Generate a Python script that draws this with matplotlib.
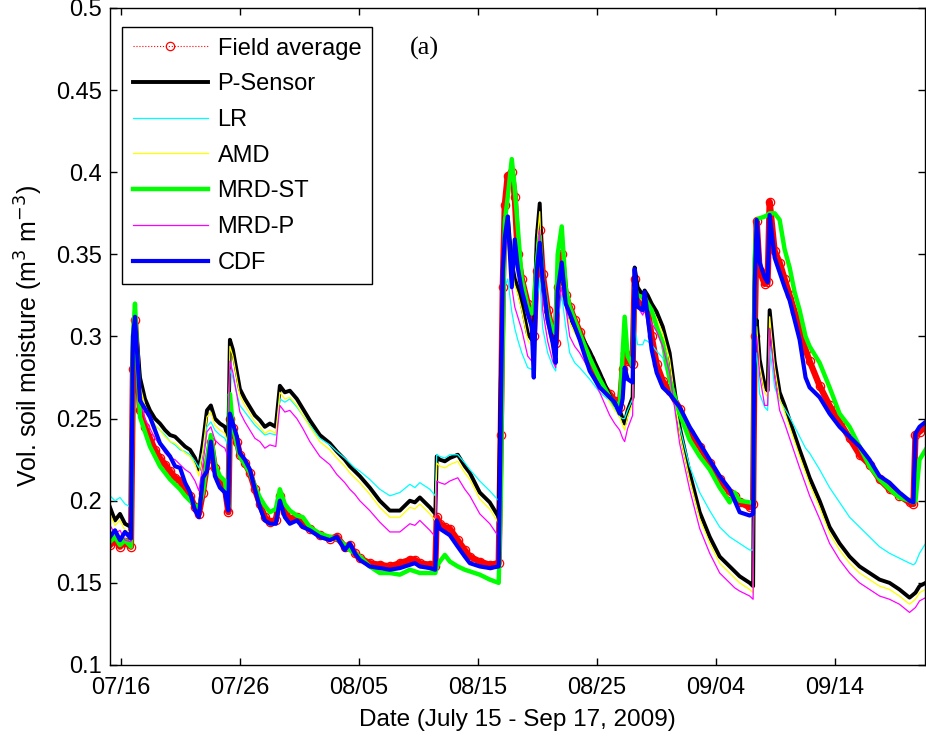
import numpy as np
import matplotlib
matplotlib.use('Agg')
import matplotlib.pyplot as plt

# time in days since 07/15 00:00 (2009)
t_day = [0.08, 0.50, 0.92, 1.34, 1.84, 2.01, 2.18, 2.60, 3.02, 3.44,
         3.86, 4.28, 4.71, 5.13, 5.55, 5.97, 6.39, 6.81, 7.23, 7.55,
         7.89, 8.23, 8.56, 8.90, 9.32, 9.74, 10.03, 10.16, 10.41, 10.75,
         11.00, 11.42, 11.84, 12.26, 12.68, 13.10, 13.52, 14.02, 14.36, 14.78,
         15.20, 15.79, 16.29, 16.88, 17.72, 18.56, 19.15, 19.82, 20.24, 20.66,
         21.08, 21.92, 22.76, 23.61, 24.45, 25.29, 25.71, 26.13, 26.97, 27.43,
         27.55, 27.81, 28.23, 28.65, 29.32, 29.91, 30.33, 31.17, 32.01, 32.76,
         32.93, 33.10, 33.27, 33.52, 33.86, 34.11, 34.36, 34.70, 35.20, 35.54,
         35.71, 35.96, 36.21, 36.46, 36.88, 37.30, 37.55, 37.72, 38.06, 38.39,
         38.73, 39.15, 39.57, 40.41, 41.25, 42.09, 42.51, 42.93, 43.18, 43.35,
         43.60, 44.02, 44.19, 44.44, 44.87, 45.03, 45.29, 45.62, 46.04, 46.55,
         47.13, 47.97, 48.81, 49.66, 50.50, 51.34, 52.18, 52.60, 53.02, 53.86,
         54.15, 54.28, 54.45, 54.70, 55.12, 55.37, 55.54, 55.96, 56.38, 56.80,
         57.22, 57.64, 58.06, 58.56, 58.90, 59.74, 60.58, 61.42, 62.26, 63.10,
         63.94, 64.78, 65.62, 66.45, 67.30, 67.63, 67.80, 68.14, 68.65]

field_avg = [0.173, 0.176, 0.172, 0.175, 0.172, 0.280, 0.310, 0.255, 0.245, 0.238,
             0.231, 0.226, 0.222, 0.218, 0.214, 0.212, 0.207, 0.203, 0.196, 0.192,
             0.205, 0.222, 0.236, 0.220, 0.212, 0.208, 0.193, 0.250, 0.244, 0.236,
             0.228, 0.223, 0.217, 0.207, 0.198, 0.190, 0.187, 0.188, 0.203, 0.193,
             0.189, 0.190, 0.186, 0.183, 0.179, 0.177, 0.178, 0.172, 0.173, 0.168,
             0.165, 0.162, 0.161, 0.160, 0.162, 0.164, 0.164, 0.162, 0.161, 0.160,
             0.190, 0.186, 0.184, 0.183, 0.176, 0.170, 0.166, 0.163, 0.161, 0.162,
             0.240, 0.330, 0.380, 0.398, 0.400, 0.385, 0.350, 0.335, 0.320, 0.312,
             0.300, 0.340, 0.365, 0.338, 0.316, 0.302, 0.296, 0.330, 0.350, 0.325,
             0.318, 0.310, 0.303, 0.286, 0.273, 0.265, 0.261, 0.257, 0.280, 0.290,
             0.285, 0.283, 0.335, 0.322, 0.318, 0.323, 0.316, 0.300, 0.283, 0.273,
             0.267, 0.256, 0.241, 0.233, 0.223, 0.213, 0.205, 0.203, 0.199, 0.196,
             0.198, 0.300, 0.370, 0.340, 0.332, 0.333, 0.382, 0.352, 0.345, 0.335,
             0.325, 0.315, 0.305, 0.292, 0.285, 0.270, 0.258, 0.248, 0.238, 0.228,
             0.222, 0.213, 0.207, 0.203, 0.199, 0.198, 0.240, 0.242, 0.245]

p_sensor = [0.196, 0.188, 0.192, 0.186, 0.184, 0.300, 0.312, 0.275, 0.262, 0.255,
            0.250, 0.247, 0.243, 0.240, 0.239, 0.236, 0.233, 0.231, 0.226, 0.219,
            0.235, 0.255, 0.258, 0.250, 0.247, 0.245, 0.238, 0.298, 0.292, 0.278,
            0.268, 0.262, 0.257, 0.252, 0.249, 0.245, 0.247, 0.245, 0.270, 0.266,
            0.267, 0.262, 0.256, 0.249, 0.240, 0.235, 0.230, 0.225, 0.221, 0.218,
            0.215, 0.208, 0.200, 0.194, 0.194, 0.200, 0.199, 0.202, 0.196, 0.192,
            0.227, 0.225, 0.224, 0.226, 0.228, 0.221, 0.217, 0.205, 0.199, 0.190,
            0.272, 0.316, 0.373, 0.373, 0.345, 0.335, 0.330, 0.320, 0.302, 0.298,
            0.300, 0.360, 0.381, 0.330, 0.310, 0.297, 0.293, 0.325, 0.342, 0.330,
            0.312, 0.306, 0.302, 0.291, 0.278, 0.264, 0.259, 0.255, 0.250, 0.247,
            0.255, 0.263, 0.342, 0.330, 0.325, 0.328, 0.325, 0.320, 0.315, 0.306,
            0.290, 0.245, 0.217, 0.193, 0.178, 0.166, 0.160, 0.157, 0.154, 0.150,
            0.148, 0.300, 0.310, 0.286, 0.270, 0.267, 0.316, 0.285, 0.266, 0.258,
            0.249, 0.240, 0.231, 0.221, 0.214, 0.200, 0.184, 0.174, 0.166, 0.160,
            0.156, 0.152, 0.150, 0.146, 0.141, 0.143, 0.144, 0.148, 0.150]

lr = [0.203, 0.200, 0.202, 0.198, 0.196, 0.290, 0.305, 0.265, 0.255, 0.250,
      0.246, 0.243, 0.240, 0.236, 0.234, 0.231, 0.230, 0.228, 0.224, 0.220,
      0.230, 0.245, 0.248, 0.243, 0.240, 0.238, 0.233, 0.280, 0.275, 0.265,
      0.258, 0.254, 0.250, 0.246, 0.243, 0.240, 0.241, 0.240, 0.262, 0.260,
      0.262, 0.257, 0.252, 0.246, 0.238, 0.234, 0.230, 0.226, 0.223, 0.220,
      0.218, 0.213, 0.207, 0.203, 0.205, 0.210, 0.208, 0.211, 0.207, 0.203,
      0.228, 0.227, 0.226, 0.228, 0.228, 0.223, 0.219, 0.212, 0.206, 0.200,
      0.260, 0.290, 0.330, 0.335, 0.315, 0.305, 0.298, 0.290, 0.281, 0.280,
      0.282, 0.320, 0.335, 0.305, 0.290, 0.282, 0.279, 0.310, 0.325, 0.306,
      0.290, 0.284, 0.281, 0.274, 0.266, 0.261, 0.256, 0.251, 0.250, 0.250,
      0.255, 0.262, 0.305, 0.295, 0.295, 0.298, 0.297, 0.295, 0.291, 0.287,
      0.272, 0.245, 0.221, 0.205, 0.194, 0.184, 0.178, 0.176, 0.174, 0.170,
      0.170, 0.280, 0.290, 0.265, 0.257, 0.255, 0.294, 0.269, 0.261, 0.256,
      0.251, 0.245, 0.239, 0.232, 0.229, 0.219, 0.208, 0.199, 0.190, 0.184,
      0.178, 0.172, 0.168, 0.165, 0.162, 0.161, 0.162, 0.168, 0.174]

amd = [0.192, 0.185, 0.188, 0.182, 0.181, 0.295, 0.308, 0.270, 0.258, 0.251,
       0.246, 0.243, 0.239, 0.236, 0.235, 0.232, 0.229, 0.227, 0.222, 0.215,
       0.231, 0.251, 0.254, 0.246, 0.243, 0.241, 0.234, 0.294, 0.288, 0.274,
       0.264, 0.258, 0.253, 0.248, 0.245, 0.241, 0.243, 0.241, 0.266, 0.262,
       0.263, 0.258, 0.252, 0.245, 0.236, 0.231, 0.226, 0.221, 0.217, 0.214,
       0.211, 0.204, 0.196, 0.190, 0.190, 0.196, 0.195, 0.198, 0.192, 0.188,
       0.223, 0.221, 0.220, 0.222, 0.224, 0.217, 0.213, 0.201, 0.195, 0.186,
       0.268, 0.312, 0.368, 0.369, 0.341, 0.331, 0.326, 0.316, 0.298, 0.294,
       0.296, 0.355, 0.376, 0.326, 0.306, 0.293, 0.289, 0.321, 0.338, 0.326,
       0.308, 0.302, 0.298, 0.287, 0.274, 0.260, 0.255, 0.251, 0.246, 0.243,
       0.251, 0.259, 0.338, 0.326, 0.321, 0.324, 0.321, 0.316, 0.311, 0.302,
       0.286, 0.241, 0.213, 0.189, 0.174, 0.162, 0.156, 0.153, 0.150, 0.146,
       0.144, 0.296, 0.306, 0.282, 0.266, 0.263, 0.312, 0.281, 0.262, 0.254,
       0.245, 0.236, 0.227, 0.217, 0.210, 0.196, 0.180, 0.170, 0.162, 0.156,
       0.152, 0.148, 0.146, 0.142, 0.137, 0.139, 0.140, 0.144, 0.146]

mrd_st = [0.175, 0.178, 0.173, 0.176, 0.172, 0.300, 0.320, 0.251, 0.242, 0.233,
          0.227, 0.221, 0.217, 0.213, 0.210, 0.207, 0.203, 0.200, 0.197, 0.196,
          0.205, 0.225, 0.240, 0.222, 0.215, 0.212, 0.196, 0.265, 0.245, 0.234,
          0.227, 0.222, 0.217, 0.209, 0.202, 0.197, 0.193, 0.195, 0.207, 0.198,
          0.194, 0.191, 0.190, 0.184, 0.180, 0.178, 0.177, 0.173, 0.170, 0.168,
          0.166, 0.160, 0.156, 0.156, 0.155, 0.158, 0.157, 0.156, 0.156, 0.156,
          0.160, 0.163, 0.167, 0.163, 0.160, 0.158, 0.157, 0.155, 0.152, 0.150,
          0.200, 0.300, 0.370, 0.385, 0.408, 0.390, 0.367, 0.335, 0.318, 0.314,
          0.320, 0.345, 0.361, 0.334, 0.314, 0.304, 0.302, 0.350, 0.367, 0.330,
          0.318, 0.310, 0.302, 0.287, 0.274, 0.263, 0.260, 0.257, 0.290, 0.312,
          0.288, 0.282, 0.330, 0.325, 0.324, 0.324, 0.320, 0.316, 0.306, 0.296,
          0.274, 0.253, 0.237, 0.227, 0.219, 0.208, 0.199, 0.205, 0.200, 0.199,
          0.199, 0.347, 0.371, 0.372, 0.373, 0.374, 0.375, 0.375, 0.371, 0.353,
          0.342, 0.327, 0.316, 0.300, 0.294, 0.284, 0.269, 0.253, 0.245, 0.233,
          0.221, 0.213, 0.207, 0.202, 0.200, 0.199, 0.200, 0.225, 0.231]

mrd_p = [0.185, 0.180, 0.182, 0.176, 0.175, 0.285, 0.300, 0.262, 0.250, 0.244,
         0.238, 0.234, 0.229, 0.226, 0.225, 0.222, 0.219, 0.217, 0.212, 0.206,
         0.222, 0.242, 0.245, 0.237, 0.234, 0.232, 0.226, 0.285, 0.278, 0.264,
         0.254, 0.248, 0.243, 0.238, 0.236, 0.232, 0.234, 0.233, 0.258, 0.254,
         0.255, 0.250, 0.244, 0.236, 0.227, 0.222, 0.216, 0.211, 0.207, 0.204,
         0.200, 0.194, 0.187, 0.181, 0.181, 0.186, 0.185, 0.188, 0.182, 0.178,
         0.212, 0.211, 0.210, 0.212, 0.214, 0.207, 0.203, 0.192, 0.186, 0.178,
         0.260, 0.300, 0.355, 0.358, 0.330, 0.318, 0.312, 0.304, 0.288, 0.285,
         0.287, 0.345, 0.365, 0.316, 0.297, 0.285, 0.281, 0.312, 0.330, 0.318,
         0.300, 0.294, 0.290, 0.279, 0.266, 0.252, 0.247, 0.243, 0.238, 0.236,
         0.244, 0.252, 0.330, 0.318, 0.313, 0.316, 0.313, 0.308, 0.303, 0.294,
         0.278, 0.235, 0.207, 0.183, 0.168, 0.156, 0.150, 0.147, 0.145, 0.142,
         0.140, 0.290, 0.300, 0.276, 0.258, 0.258, 0.305, 0.275, 0.255, 0.247,
         0.238, 0.229, 0.220, 0.210, 0.203, 0.189, 0.174, 0.164, 0.156, 0.150,
         0.146, 0.142, 0.140, 0.137, 0.132, 0.134, 0.135, 0.139, 0.141]

cdf = [0.178, 0.182, 0.176, 0.181, 0.177, 0.300, 0.312, 0.261, 0.256, 0.251,
       0.243, 0.235, 0.231, 0.227, 0.221, 0.220, 0.211, 0.205, 0.194, 0.190,
       0.214, 0.218, 0.236, 0.215, 0.208, 0.205, 0.194, 0.253, 0.247, 0.239,
       0.229, 0.225, 0.219, 0.207, 0.196, 0.188, 0.186, 0.186, 0.200, 0.190,
       0.186, 0.188, 0.184, 0.182, 0.178, 0.176, 0.178, 0.170, 0.174, 0.168,
       0.164, 0.160, 0.159, 0.158, 0.159, 0.161, 0.162, 0.160, 0.159, 0.158,
       0.188, 0.183, 0.181, 0.179, 0.172, 0.166, 0.162, 0.160, 0.159, 0.160,
       0.250, 0.339, 0.360, 0.373, 0.330, 0.359, 0.342, 0.328, 0.314, 0.306,
       0.275, 0.340, 0.357, 0.334, 0.310, 0.296, 0.284, 0.328, 0.345, 0.320,
       0.314, 0.306, 0.298, 0.279, 0.269, 0.263, 0.260, 0.253, 0.262, 0.281,
       0.274, 0.272, 0.341, 0.318, 0.316, 0.327, 0.312, 0.292, 0.278, 0.269,
       0.265, 0.257, 0.245, 0.235, 0.225, 0.215, 0.207, 0.200, 0.193, 0.191,
       0.192, 0.330, 0.371, 0.345, 0.336, 0.333, 0.374, 0.348, 0.339, 0.330,
       0.322, 0.310, 0.298, 0.275, 0.269, 0.263, 0.253, 0.245, 0.239, 0.233,
       0.225, 0.215, 0.211, 0.205, 0.200, 0.199, 0.241, 0.245, 0.248]

tick_days = [1, 11, 21, 31, 41, 51, 61]
tick_labels = ['07/16', '07/26', '08/05', '08/15', '08/25', '09/04', '09/14']

for s in [field_avg, p_sensor, lr, amd, mrd_st, mrd_p, cdf]:
    assert len(s) == len(t_day)

plt.rcParams['font.family'] = ['Liberation Sans', 'DejaVu Sans']
plt.rcParams['font.size'] = 17

fig = plt.figure(figsize=(9.26, 7.37), dpi=100)
ax = fig.add_axes([0.1188, 0.0977, 0.8801, 0.8915])

# field average: band of open circles
ax.plot(t_day, field_avg, color='r', linewidth=4.5, solid_joinstyle='round')
ax.plot(t_day, field_avg, color='r', linestyle=':', linewidth=0.8, marker='o',
        markerfacecolor='none', markeredgecolor='r', markersize=6, markeredgewidth=0.9,
        label='Field average')
ax.plot(t_day, p_sensor, color='k', linewidth=2.8, label='P-Sensor')
ax.plot(t_day, lr, color='cyan', linewidth=0.9, label='LR')
ax.plot(t_day, amd, color='yellow', linewidth=0.9, label='AMD')
ax.plot(t_day, mrd_st, color='lime', linewidth=3.2, label='MRD-ST')
ax.plot(t_day, mrd_p, color='magenta', linewidth=0.9, label='MRD-P')
ax.plot(t_day, cdf, color='b', linewidth=3.0, label='CDF')

ax.set_xlim(0.08, 68.6)
ax.set_ylim(0.1, 0.5)
ax.set_xticks(tick_days)
ax.set_xticklabels(tick_labels)
ax.set_yticks([0.1, 0.15, 0.2, 0.25, 0.3, 0.35, 0.4, 0.45, 0.5])
ax.set_yticklabels(['0.1', '0.15', '0.2', '0.25', '0.3', '0.35', '0.4', '0.45', '0.5'])
ax.tick_params(direction='in', top=True, right=True, length=5, width=1, labelsize=17)
ax.tick_params(axis='x', pad=9)
ax.tick_params(axis='y', pad=6)
for sp in ax.spines.values():
    sp.set_linewidth(1)

ax.set_xlabel('Date (July 15 - Sep 17, 2009)', fontsize=17.5, labelpad=7)
ax.set_ylabel('Vol. soil moisture (m$^3$ m$^{-3}$)', fontsize=18, labelpad=8)

leg = ax.legend(loc='upper left', bbox_to_anchor=(0.0147, 0.971), borderaxespad=0,
                fontsize=17, fancybox=False, edgecolor='k', framealpha=1,
                handlelength=3.2, handletextpad=0.4, labelspacing=0.58,
                borderpad=0.45)
leg.get_frame().set_linewidth(1)

ax.text(0.368, 0.939, '(a)', transform=ax.transAxes, fontsize=19, va='center',
        family=['Liberation Serif', 'DejaVu Serif'])

plt.savefig('out.png', dpi=100)
